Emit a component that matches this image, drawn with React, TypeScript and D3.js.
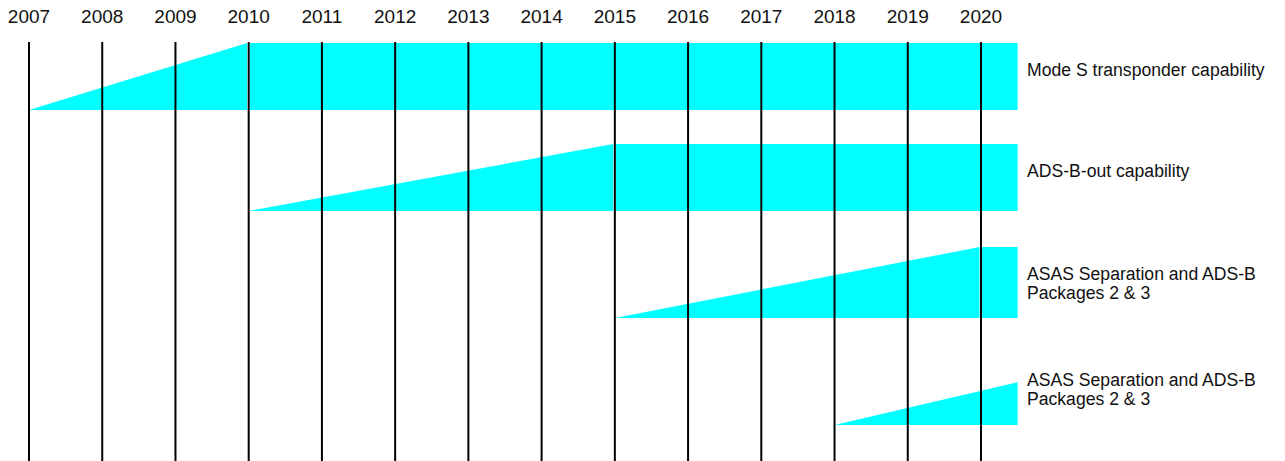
import React from "react";
import * as d3 from "d3";

// timeline years shown across the top
const years = [2007, 2008, 2009, 2010, 2011, 2012, 2013, 2014, 2015, 2016, 2017, 2018, 2019, 2020];
const lastYear = 2020.5;

// one row per capability: ramp start, year of full capability, label lines
const rowLabels = [
  ["Mode S transponder capability"],
  ["ADS-B-out capability"],
  ["ASAS Separation and ADS-B", "Packages 2 & 3"],
  ["ASAS Separation and ADS-B", "Packages 2 & 3"],
];
const rampStart = [2007, 2010, 2015, 2018];
const rampFull = [2010, 2015, 2020, 2022.2];

const W = 1285;
const H = 461;

const App = () => {
  const x = d3.scaleLinear().domain([2007, 2020]).range([29, 981]);
  const rowTop = d3.scaleLinear().domain([0, 1, 2, 3]).range([43, 144, 247, 353]);
  const rowBottom = d3.scaleLinear().domain([0, 1, 2, 3]).range([110, 211, 318, 425]);

  return (
    <svg
      width={W}
      height={H}
      style={{ position: "absolute", left: 0, top: 0, background: "#fff" }}
      fontFamily="'Liberation Sans', Arial, sans-serif"
    >
      {rowLabels.map((lines, i) => {
        const top = rowTop(i);
        const bottom = rowBottom(i);
        const rowH = bottom - top;
        const s = rampStart[i];
        const f = rampFull[i];
        const endRamp = Math.min(f, lastYear);
        const gap = f <= lastYear ? 1.5 : 0;
        // height of the ramp at its clipped end
        const hEnd = ((endRamp - s) / (f - s)) * rowH;
        const ramp = d3.line<[number, number]>()([
          [x(s), bottom],
          [x(endRamp) - gap, bottom],
          [x(endRamp) - gap, bottom - hEnd],
        ]);
        return (
          <g key={i}>
            <path d={ramp + "Z"} fill="#00ffff" />
            {f < lastYear && (
              <rect
                x={x(f) + 1}
                y={top}
                width={x(lastYear) - x(f) - 1}
                height={rowH}
                fill="#00ffff"
              />
            )}
            {lines.map((t, j) => (
              <text key={j} x={1027} y={top + 33 + j * 19} fontSize={17.6} fill="#111">
                {t}
              </text>
            ))}
          </g>
        );
      })}
      {years.map((y) => (
        <g key={y}>
          <line x1={x(y)} x2={x(y)} y1={42} y2={H} stroke="#000" strokeWidth={2} />
          <text x={x(y)} y={23} textAnchor="middle" fontSize={19} fill="#111">
            {y}
          </text>
        </g>
      ))}
    </svg>
  );
};

export default App;
